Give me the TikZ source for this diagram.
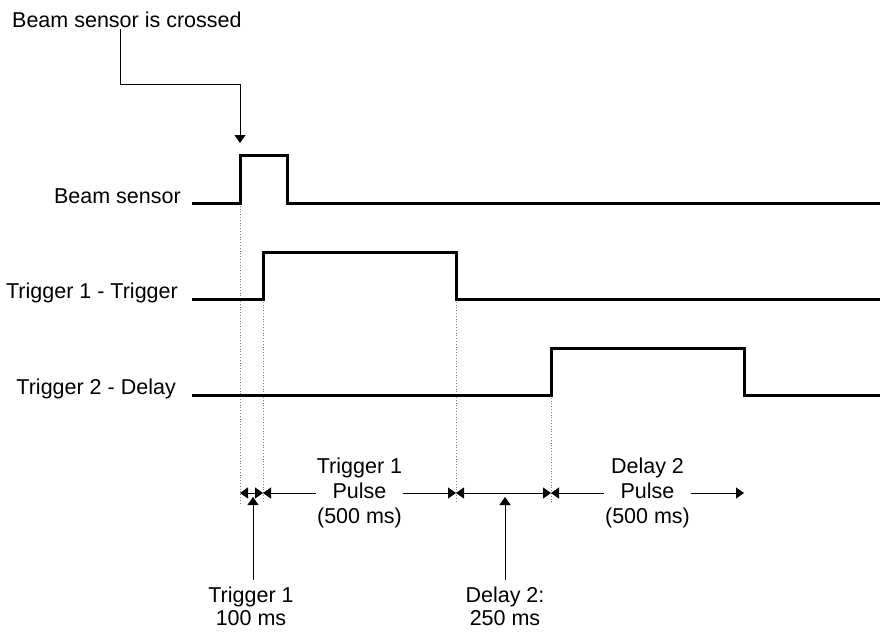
\documentclass[tikz,border=0pt]{standalone}
\usepackage{fontspec}
\setmainfont{Liberation Sans}
\usetikzlibrary{arrows.meta}
\begin{document}
\begin{tikzpicture}[x=1pt,y=-1pt,
  sig/.style={line width=3pt, line join=miter},
  guide/.style={dotted, gray, line width=0.8pt},
  arr/.style={line width=1pt, -{Triangle[length=8pt,width=11pt]}},
  dimarr/.style={line width=1pt, {Triangle[length=8pt,width=11pt]}-{Triangle[length=8pt,width=11pt]}},
  lbl/.style={inner sep=0pt, font=\fontsize{21.5}{23}\selectfont},
  pulselbl/.style={fill=white, inner xsep=1pt, inner ysep=0pt, align=center, font=\fontsize{21.5}{25}\selectfont}]
\useasboundingbox (0,0) rectangle (880,635);
% key coordinates
\coordinate (bsUp) at (240,203);
\coordinate (t1Up) at (263,299);
\coordinate (t1Dn) at (456,299);
\coordinate (t2Up) at (551,395);
\coordinate (dA) at (240,493);
\coordinate (dB) at (263,493);
\coordinate (dC) at (456,493);
\coordinate (dD) at (551,493);
\coordinate (dE) at (744,493);
\coordinate (bend) at (120,84);
\coordinate (bsTip) at (240,143);
\coordinate (upA) at (253,497);
\coordinate (upB) at (505,497);
% guides
\draw[guide] (bsUp) -- (bsUp |- 0,503);
\draw[guide] (t1Up) -- (t1Up |- 0,503);
\draw[guide] (t1Dn) -- (t1Dn |- 0,503);
\draw[guide] (t2Up) -- (t2Up |- 0,503);
% signals
\draw[sig] (192,203) -- (240,203) -- (240,155) -- (287,155) -- (287,203) -- (882,203);
\draw[sig] (192,299) -- (263,299) -- (263,252) -- (456,252) -- (456,299) -- (882,299);
\draw[sig] (192,395) -- (551,395) -- (551,348) -- (744,348) -- (744,395) -- (882,395);
% signal labels
\node[lbl, anchor=base east] (lbBeam) at (181,203) {Beam sensor};
\node[lbl, anchor=base east] (lbT1) at (178,298) {Trigger 1 - Trigger};
\node[lbl, anchor=base east] (lbT2) at (176,394) {Trigger 2 - Delay};
% top annotation
\node[lbl, anchor=base west, inner ysep=2pt] (crossed) at (12,27) {Beam sensor is crossed};
\draw[arr, line width=0.8pt] (crossed.south -| bend) -- (bend) -| (bsTip);
% dimension arrows
\draw[dimarr] (dA) -- (dB);
\draw[dimarr] (dB) -- (dC) node[pulselbl, midway] (p1) {Trigger 1\\Pulse\\(500 ms)};
\draw[dimarr] (dC) -- (dD);
\draw[dimarr] (dD) -- (dE) node[pulselbl, midway] (p2) {Delay 2\\Pulse\\(500 ms)};
% bottom labels
\node[lbl, align=center, anchor=base] (lbA) at (251,625) {Trigger 1\\100 ms};
\node[lbl, align=center, anchor=base] (lbB) at (505,625) {Delay 2:\\250 ms};
\draw[arr] (lbA.north -| upA) ++(0,-6) -- (upA);
\draw[arr] (lbB.north -| upB) ++(0,-6) -- (upB);
\end{tikzpicture}
\end{document}
